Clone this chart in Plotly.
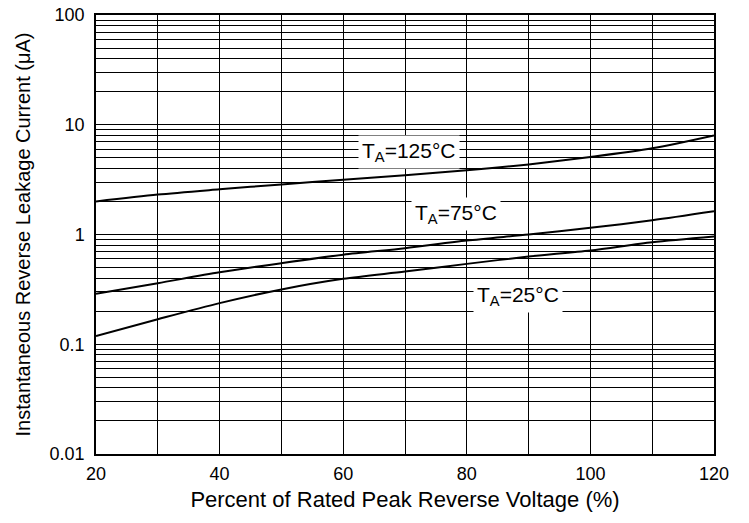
import math
import plotly.graph_objects as go

# Data
voltage_pct = [20, 30, 40, 50, 60, 70, 80, 90, 100, 110, 120]
i_125 = [2.00, 2.31, 2.58, 2.86, 3.15, 3.47, 3.84, 4.35, 5.08, 6.10, 8.00]
i_75 = [0.288, 0.36, 0.452, 0.548, 0.655, 0.75, 0.88, 1.00, 1.15, 1.35, 1.63]
i_25 = [0.119, 0.169, 0.237, 0.316, 0.395, 0.46, 0.54, 0.63, 0.716, 0.85, 0.96]

labels = ["T<sub>A</sub>=125°C", "T<sub>A</sub>=75°C", "T<sub>A</sub>=25°C"]
label_x = [70.6, 78.3, 88.3]
label_y = [5.6, 1.55, 0.273]

x_ticks = [20, 40, 60, 80, 100, 120]
y_ticks = [0.01, 0.1, 1, 10, 100]
y_tick_text = ["0.01", "0.1", "1", "10", "100"]

FONT = "Liberation Sans, Arial, sans-serif"

fig = go.Figure()
for ys in (i_125, i_75, i_25):
    fig.add_trace(go.Scatter(
        x=voltage_pct, y=ys, mode="lines",
        line=dict(color="black", width=2, shape="spline", smoothing=0.8),
        showlegend=False, hoverinfo="skip"))

for t, lx, ly in zip(labels, label_x, label_y):
    fig.add_annotation(x=lx, y=math.log10(ly), xref="x", yref="y", text=t,
                       showarrow=False, bgcolor="white", borderpad=3,
                       font=dict(family=FONT, size=21, color="black"))

fig.update_xaxes(range=[20, 120], tickvals=x_ticks, ticks="", automargin=False,
                 showgrid=True, gridcolor="black", gridwidth=1,
                 minor=dict(dtick=10, showgrid=True, gridcolor="black", gridwidth=1, ticks=""),
                 showline=True, linecolor="black", linewidth=1.5, mirror=True,
                 zeroline=False, ticklabelstandoff=3,
                 tickfont=dict(family=FONT, size=18, color="black"),
                 title=dict(text="Percent of Rated Peak Reverse Voltage (%)",
                            font=dict(family=FONT, size=22, color="black"), standoff=8))
fig.update_yaxes(type="log", range=[-2, 2], tickvals=y_ticks, ticktext=y_tick_text, ticks="",
                 automargin=False,
                 showgrid=True, gridcolor="black", gridwidth=1,
                 minor=dict(dtick="D1", showgrid=True, gridcolor="black", gridwidth=1, ticks=""),
                 showline=True, linecolor="black", linewidth=1.5, mirror=True,
                 zeroline=False, ticklabelstandoff=6,
                 tickfont=dict(family=FONT, size=18, color="black"),
                 title=dict(text="Instantaneous Reverse Leakage Current (μA)",
                            font=dict(family=FONT, size=20, color="black"), standoff=14))

fig.update_layout(width=749, height=523, plot_bgcolor="white", paper_bgcolor="white",
                  margin=dict(l=96, r=35, t=15, b=69))

fig.write_html("out.html")
